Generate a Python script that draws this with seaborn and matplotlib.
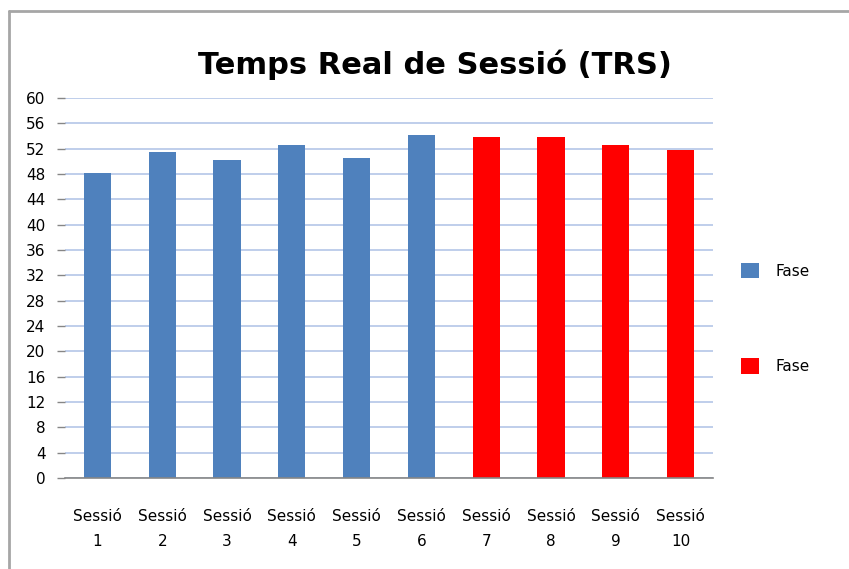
import matplotlib
matplotlib.use("Agg")
import matplotlib.pyplot as plt
from matplotlib.patches import Patch
from matplotlib.lines import Line2D
import seaborn as sns
import pandas as pd
import numpy as np

sessions = ["Sessió\n1", "Sessió\n2", "Sessió\n3", "Sessió\n4", "Sessió\n5",
            "Sessió\n6", "Sessió\n7", "Sessió\n8", "Sessió\n9", "Sessió\n10"]
values = [48.1, 51.4, 50.2, 52.6, 50.6, 54.2, 53.8, 53.8, 52.6, 51.8]
phases = ["Fase", "Fase", "Fase", "Fase", "Fase", "Fase",
          "Fase ", "Fase ", "Fase ", "Fase "]
phase_labels = ["Fase", "Fase"]
phase_colors = ["#4f81bd", "#ff0000"]
yticks = list(range(0, 61, 4))
title = "Temps Real de Sessió (TRS)"

sns.set_theme(style="white")
plt.rcParams["font.family"] = ["DejaVu Sans"]
plt.rcParams["text.color"] = "black"
plt.rcParams["xtick.color"] = "black"
plt.rcParams["ytick.color"] = "black"

df = pd.DataFrame({"session": sessions, "value": values, "phase": phases})

fig = plt.figure(figsize=(8.49, 5.69), dpi=100)
ax = fig.add_axes([65/849, 1-478/569, (713-65)/849, (478-98)/569])

sns.barplot(data=df, x="session", y="value", hue="phase",
            palette=dict(zip(["Fase", "Fase "], phase_colors)),
            dodge=False, width=0.42, ax=ax, legend=False,
            edgecolor="none", saturation=1)

ax.set_ylim(0, 60)
ax.set_xlim(-0.5, len(sessions) - 0.5)
ax.set_yticks(yticks)
ax.set_yticklabels([str(t) for t in yticks], fontsize=11, color="black")
ax.yaxis.grid(True, color="#b4c6e7", linewidth=1.2)
ax.set_axisbelow(True)
ax.set_xlabel("")
ax.set_ylabel("")
ax.set_xticks(range(len(sessions)))
ax.set_xticklabels(sessions, fontsize=11, color="black", linespacing=1.9)
ax.tick_params(axis="x", which="major", length=0, pad=22)
ax.set_xticks(np.arange(0.5, len(sessions) - 0.5, 1), minor=True)
ax.tick_params(axis="x", which="minor", length=6, color="#868686", width=1)
ax.tick_params(axis="y", length=6, color="#868686", width=1, left=True, pad=8)
for s in ["top", "right", "left"]:
    ax.spines[s].set_visible(False)
ax.spines["bottom"].set_color("#868686")
ax.spines["bottom"].set_linewidth(1.2)

fig.text(435/849, 1-65/569, title, ha="center", va="center",
         fontsize=22, fontweight="bold", color="black")

handles = [Patch(facecolor=c, edgecolor="none") for c in phase_colors]
fig.legend(handles, phase_labels, loc="upper left",
           bbox_to_anchor=(727/849, 1-249/569), frameon=False,
           fontsize=11, handlelength=1.2, handleheight=1.2,
           labelspacing=5.2, handletextpad=1.1)

fig.add_artist(Line2D([8.5/849, 8.5/849], [0, 1-11/569], transform=fig.transFigure,
                      color="#a6a6a6", linewidth=2))
fig.add_artist(Line2D([8.5/849, 1], [1-11/569, 1-11/569], transform=fig.transFigure,
                      color="#a6a6a6", linewidth=2))

fig.savefig("out.png", dpi=100)
